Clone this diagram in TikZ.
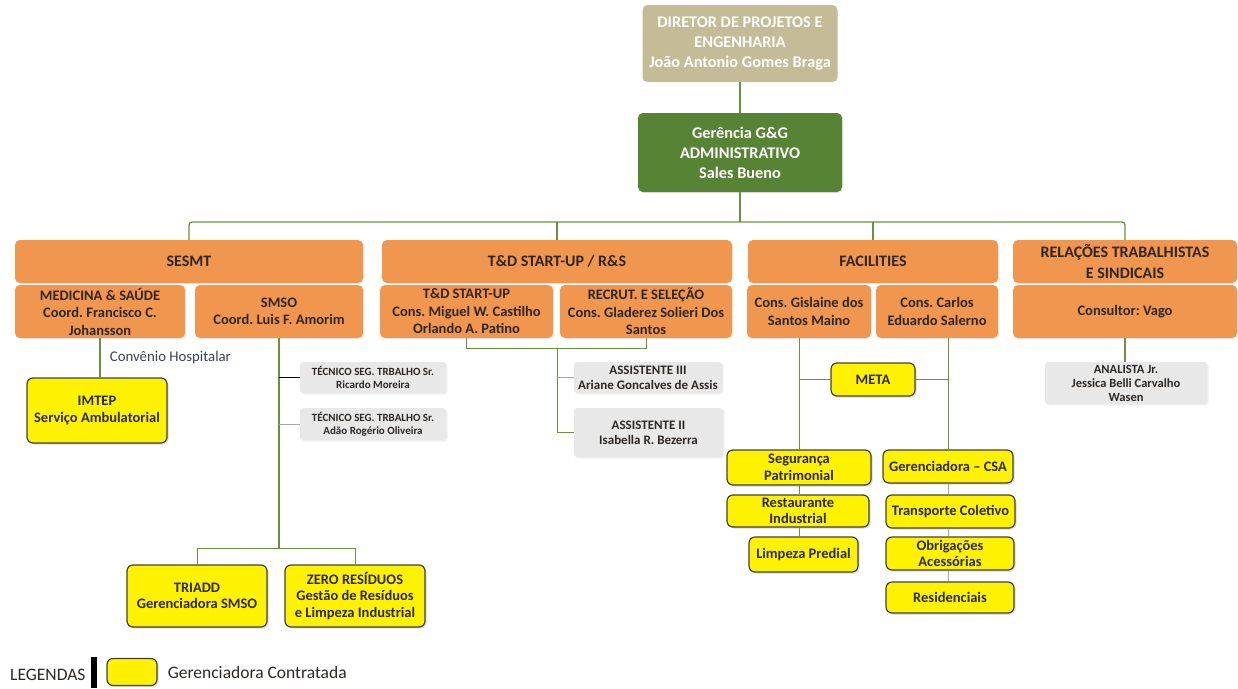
\documentclass[tikz,border=0pt]{standalone}
\usepackage{fontspec}
\setmainfont{Carlito}
\frenchspacing
\usetikzlibrary{shadows,positioning}
\definecolor{ORG-TAN}{RGB}{196,188,150}
\definecolor{ORG-GREEN}{RGB}{86,132,52}
\definecolor{ORG-ORANGE}{RGB}{241,150,78}
\definecolor{ORG-LINE}{RGB}{104,146,64}
\definecolor{ORG-GRAY}{RGB}{232,232,232}
\definecolor{ORG-TEXT}{RGB}{45,40,35}
\definecolor{ORG-NOTE}{RGB}{60,62,95}

\tikzset{
  box/.style={rounded corners=5pt, align=center, inner sep=0.5pt},
  topbox/.style={box, text=white, font=\fontsize{16.3}{20}\selectfont\bfseries},
  headbox/.style={box, fill=ORG-ORANGE, text=ORG-TEXT,
    drop shadow={opacity=0.15,shadow xshift=1pt,shadow yshift=-1pt}},
  areabox/.style={headbox, font=\fontsize{16}{21}\selectfont\bfseries},
  subbox/.style={headbox, font=\fontsize{14.5}{17.5}\selectfont\bfseries},
  firmbox/.style={box, fill=yellow, draw=black!75, line width=1.2pt, rounded corners=6pt,
    text=ORG-TEXT, font=\fontsize{14.5}{16.5}\selectfont\bfseries,
    drop shadow={opacity=0.3,shadow xshift=1.5pt,shadow yshift=-1.5pt}},
  staffbox/.style={box, fill=ORG-GRAY, rounded corners=3pt, text=ORG-TEXT,
    drop shadow={opacity=0.12,shadow xshift=1.5pt,shadow yshift=-1.5pt}},
  link/.style={draw=ORG-LINE, line width=1.3pt},
  thinlink/.style={draw=black!35, line width=0.8pt}
}

\begin{document}
\begin{tikzpicture}[x=1pt,y=-1pt]
  \useasboundingbox (0,0) rectangle (1238,688);

  % Direction
  \node[topbox, fill=ORG-TAN, minimum width=195pt, minimum height=77pt] (dir) at (740,43.5)
    {DIRETOR DE PROJETOS E\\ENGENHARIA\\João Antonio Gomes Braga};
  \node[topbox, fill=ORG-GREEN, minimum width=204pt, minimum height=79pt,
    drop shadow={opacity=0.2,shadow xshift=1pt,shadow yshift=-1pt}] (ger) at (740,152.5)
    {Gerência G\&G\\ADMINISTRATIVO\\Sales Bueno};

  % Areas
  \node[areabox, minimum width=348pt, minimum height=43pt] (sesmt) at (189,261.5) {SESMT};
  \node[areabox, minimum width=350pt, minimum height=43pt] (tdrs) at (557,261.5) {T\&D START-UP / R\&S};
  \node[areabox, minimum width=250pt, minimum height=43pt] (fac) at (873,261.5) {FACILITIES};
  \node[areabox, minimum width=224pt, minimum height=43pt] (rel) at (1125,261.5) {RELAÇÕES TRABALHISTAS\\E SINDICAIS};

  % Coordinators
  \node[subbox, minimum width=170pt, minimum height=53pt] (med) at (100,311.5) {MEDICINA \& SAÚDE\\Coord. Francisco C.\\Johansson};
  \node[subbox, minimum width=168pt, minimum height=53pt] (smso) at (279,311.5) {SMSO\\Coord. Luis F. Amorim};
  \node[subbox, minimum width=173pt, minimum height=53pt] (tds) at (466.5,311.5) {T\&D START-UP\\Cons. Miguel W. Castilho\\Orlando A. Patino};
  \node[subbox, minimum width=172pt, minimum height=53pt] (rec) at (646,311.5) {RECRUT. E SELEÇÃO\\Cons. Gladerez Solieri Dos\\Santos};
  \node[subbox, minimum width=124pt, minimum height=53pt] (gis) at (809,311.5) {Cons. Gislaine dos\\Santos Maino};
  \node[subbox, minimum width=122pt, minimum height=53pt] (car) at (937,311.5) {Cons. Carlos\\Eduardo Salerno};
  \node[subbox, minimum width=224pt, minimum height=53pt] (vago) at (1125,311.5) {Consultor: Vago};

  % Staff
  \node[staffbox, font=\fontsize{11}{13}\selectfont\bfseries, minimum width=146pt, minimum height=31pt] (tec1) at (373,377.5) {TÉCNICO SEG. TRBALHO Sr.\\Ricardo Moreira};
  \node[staffbox, font=\fontsize{11}{13}\selectfont\bfseries, minimum width=146pt, minimum height=32pt] (tec2) at (373,424) {TÉCNICO SEG. TRBALHO Sr.\\Adão Rogério Oliveira};
  \node[staffbox, font=\fontsize{13}{15}\selectfont\bfseries, minimum width=148pt, minimum height=31pt] (ast3) at (648,377.5) {ASSISTENTE III\\Ariane Goncalves de Assis};
  \node[staffbox, font=\fontsize{13}{15}\selectfont\bfseries, minimum width=149pt, minimum height=49pt] (ast2) at (648.5,432.5) {ASSISTENTE II\\Isabella R. Bezerra};
  \node[staffbox, font=\fontsize{12.5}{14}\selectfont\bfseries, minimum width=162pt, minimum height=42pt] (anal) at (1126,383) {ANALISTA Jr.\\Jessica Belli Carvalho\\Wasen};

  % Contracted firms
  \node[firmbox, minimum width=140pt, minimum height=65pt] (imtep) at (97,410.5) {IMTEP\\Serviço Ambulatorial};
  \node[firmbox, minimum width=140pt, minimum height=62pt] (triadd) at (197,596) {TRIADD\\Gerenciadora SMSO};
  \node[firmbox, minimum width=140pt, minimum height=62pt] (zero) at (355,596) {ZERO RESÍDUOS\\Gestão de Resíduos\\e Limpeza Industrial};
  \node[firmbox, minimum width=84pt, minimum height=33pt] (meta) at (873,379.5) {META};
  \node[firmbox, minimum width=144pt, minimum height=35pt] (seg) at (799,467.5) {Segurança\\Patrimonial};
  \node[firmbox, minimum width=142pt, minimum height=32pt] (rest) at (798,511) {Restaurante\\Industrial};
  \node[firmbox, minimum width=109pt, minimum height=35pt] (limp) at (803.5,554.5) {Limpeza Predial};
  \node[firmbox, minimum width=130pt, minimum height=33pt] (csa) at (948,466.5) {Gerenciadora -- CSA};
  \node[firmbox, minimum width=129pt, minimum height=33pt] (trans) at (950.5,511.5) {Transporte Coletivo};
  \node[firmbox, minimum width=128pt, minimum height=33pt] (obr) at (950,553.5) {Obrigações\\Acessórias};
  \node[firmbox, minimum width=128pt, minimum height=31pt] (resid) at (950,597.5) {Residenciais};

  % Top connectors
  \draw[link] (ger.north |- dir.south) -- (ger.north);
  \coordinate (bus) at (740,222);
  \draw[link] (ger.south) -- (bus);
  \draw[link, rounded corners=3pt] (sesmt.north) |- (bus) -| (rel.north);
  \draw[link] (tdrs.north) -- (tdrs.north |- bus);
  \draw[link] (fac.north) -- (fac.north |- bus);

  % SESMT
  \draw[link] (med.south) -- (med.south |- imtep.north)
    node[midway, right=6pt, text=ORG-NOTE, font=\fontsize{14.8}{16}\selectfont] (conv) {Convênio Hospitalar};
  \draw[link, line width=2.6pt] (smso.south) -- ++(0,210) coordinate (smsoj);
  \draw[link, line width=1pt] (triadd.north) |- (smsoj) -| (zero.north);
  \draw[black, line width=0.9pt] (smso.south |- tec1.west) -- (tec1.west);
  \draw[thinlink] (smso.south |- tec2.west) -- (tec2.west);

  % T&D / R&S
  \draw[link, line width=1pt] (tds.south) -- ++(0,10) coordinate (tdl) -| (rec.south);
  \coordinate (tdj) at (557,348);
  \draw[link, line width=1pt] (tdj) |- (ast2.west);
  \draw[thinlink] (tdj |- ast3.west) -- (ast3.west);

  % Facilities
  \draw[link, line width=1pt] (seg.north |- gis.south) -- (seg.north);
  \draw[link, line width=1pt] (csa.north |- car.south) -- (csa.north);
  \draw[link, line width=1pt] (meta.west) -- (meta.west -| seg.north);
  \draw[link, line width=1pt] (meta.east) -- (meta.east -| csa.north);
  \draw[link, line width=1pt] (seg.south) -- (seg.south |- rest.north);
  \draw[link, line width=1pt] (seg.south |- rest.south) -- (seg.south |- limp.north);
  \draw[thinlink] (csa.south) -- (csa.south |- trans.north);
  \draw[thinlink] (csa.south |- trans.south) -- (csa.south |- obr.north);
  \draw[thinlink] (csa.south |- obr.south) -- (csa.south |- resid.north);

  % Relações
  \draw[link] (vago.south) -- (vago.south |- anal.north);

  % Legend
  \node[anchor=west, text=ORG-TEXT, font=\fontsize{17.5}{19}\selectfont, inner sep=0pt] (legt) at (10,675) {LEGENDAS};
  \fill[black] (91,657) rectangle (97,688);
  \node[firmbox, minimum width=50pt, minimum height=27pt] (legbox) at (132,672) {};
  \node[right=10pt of legbox, text=ORG-TEXT, font=\fontsize{17.5}{19}\selectfont, inner sep=0pt] (legd) {Gerenciadora Contratada};
\end{tikzpicture}
\end{document}
